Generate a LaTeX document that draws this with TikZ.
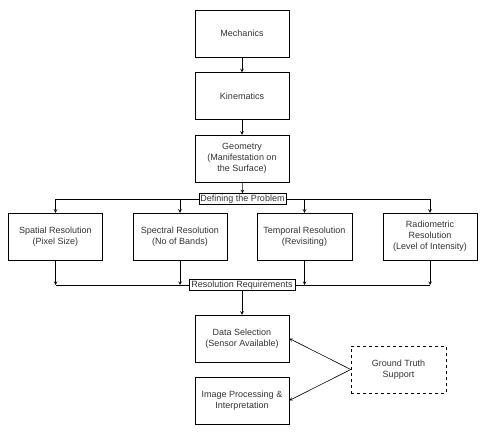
\documentclass[tikz,border=0pt]{standalone}
\usepackage{fontspec}
\setmainfont{Liberation Sans}
\usepackage{tikz}
\usetikzlibrary{shapes}
\tikzstyle{box}=[draw,rectangle,align=center,minimum width=94pt,minimum height=47pt,inner sep=1pt,font=\fontsize{9}{11}\selectfont,text=black!80]
\tikzstyle{tag}=[draw,rectangle,inner sep=1pt,minimum height=11pt,font=\fontsize{9}{10}\selectfont,text=black!80,fill=white]
\tikzstyle{link}=[->,>=stealth,semithick]

\begin{document}
\begin{tikzpicture}[x=1pt,y=-1pt]
\useasboundingbox (0,0) rectangle (500,438);

% top chain
\node[box] (mech) at (242,33.5) {Mechanics};
\node[box] (kine) at (242,96) {Kinematics};
\node[box] (geom) at (242,158.5) {Geometry\\(Manifestation on\\the Surface)};
\node[tag,minimum width=87pt] (defprob) at (242.5,199) {Defining the Problem};

% resolutions
\node[box] (spat) at (55.5,236.5) {Spatial Resolution\\(Pixel Size)};
\node[box] (spec) at (180,236.5) {Spectral Resolution\\(No of Bands)};
\node[box,minimum width=95pt] (temp) at (304.5,236.5) {Temporal Resolution\\(Revisiting)};
\node[box] (radio) at (430,236.5) {Radiometric\\Resolution\\(Level of Intensity)};

\node[tag,minimum width=106pt] (resreq) at (242,285) {Resolution Requirements};

% bottom part
\node[box] (data) at (242,338.5) {Data Selection\\(Sensor Available)};
\node[box] (img) at (242,400.5) {Image Processing \&\\Interpretation};
\node[box,dashed,minimum width=95pt] (ground) at (398.5,369.5) {Ground Truth\\Support};

\draw[link] (mech) -- (kine);
\draw[link] (kine) -- (geom);
\draw[link] (geom) -- (defprob);

\draw[link] (defprob.west) -| (spat.north);
\draw[link] (defprob.west) -| (spec.north);
\draw[link] (defprob.east) -| (temp.north);
\draw[link] (defprob.east) -| (radio.north);

\coordinate (j1) at (spat.south |- resreq.west);
\coordinate (j2) at (spec.south |- resreq.west);
\coordinate (j3) at (temp.south |- resreq.east);
\coordinate (j4) at (radio.south |- resreq.east);
\draw[link] (spat.south) -- (j1);
\draw[link] (spec.south) -- (j2);
\draw[link] (temp.south) -- (j3);
\draw[link] (radio.south) -- (j4);
\draw[semithick] (j1) -- (resreq.west);
\draw[semithick] (j4) -- (resreq.east);

\draw[link] (resreq) -- (data);
\draw[link] (ground.west) -- (data.east);
\draw[link] (ground.west) -- (img.east);

\end{tikzpicture}
\end{document}
